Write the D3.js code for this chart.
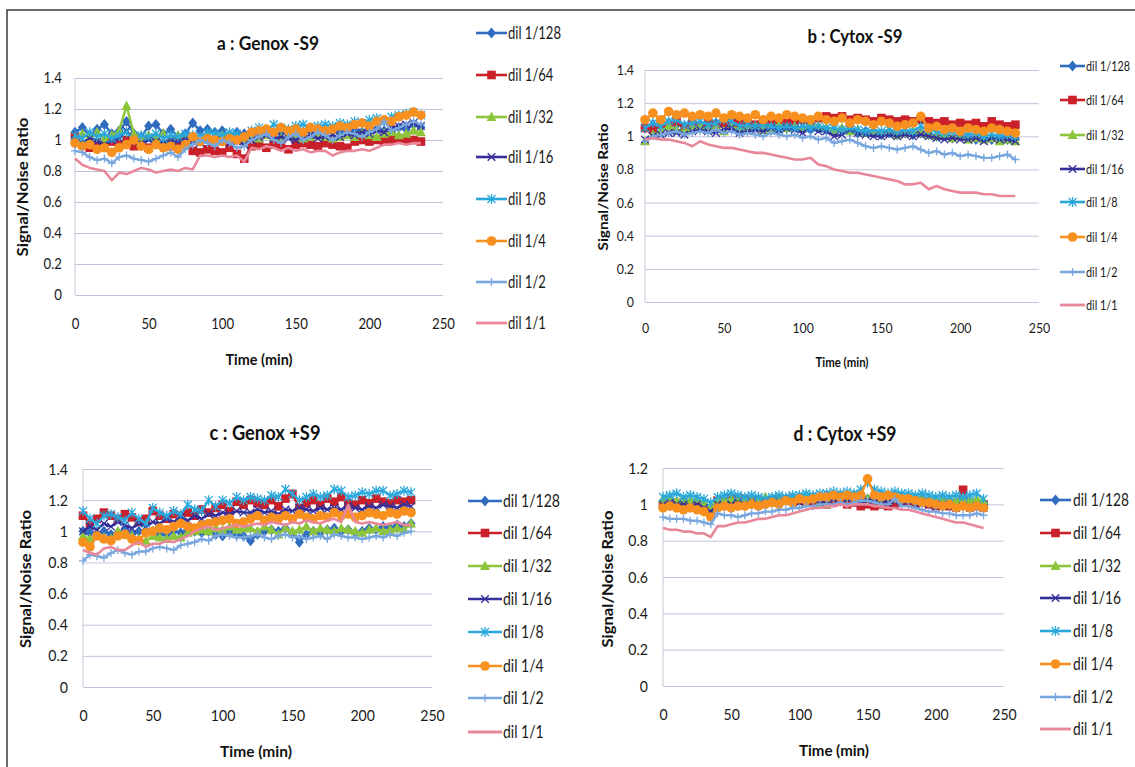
<!DOCTYPE html>
<html>
<head>
<meta charset="utf-8">
<script src="https://cdn.jsdelivr.net/npm/d3@7"></script>
<style>
  body { margin: 0; background: #fff; }
  svg { display: block; font-family: Lato, "Open Sans", sans-serif; }
</style>
</head>
<body>
<div id="chart"></div>
<script>
const times = [0,5,10,15,20,25,30,35,40,45,50,55,60,65,70,75,80,85,90,95,100,105,110,115,
               120,125,130,135,140,145,150,155,160,165,170,175,180,185,190,195,200,205,210,215,220,225,230,235];
const dilutions = ['dil 1/128','dil 1/64','dil 1/32','dil 1/16','dil 1/8','dil 1/4','dil 1/2','dil 1/1'];
const xTicks = [0,50,100,150,200,250];
const yTicks14 = [0,0.2,0.4,0.6,0.8,1,1.2,1.4];
const yTicks12 = [0,0.2,0.4,0.6,0.8,1,1.2];

// a : Genox -S9
const a128 = [1.05,1.08,1.03,1.07,1.10,1.04,1.06,1.12,1.04,1.02,1.09,1.10,
              1.04,1.07,1.02,1.04,1.11,1.06,1.07,1.05,1.06,1.03,1.05,1.04,
              1.03,1.05,1.06,1.04,1.05,1.06,1.04,1.05,1.06,1.04,1.05,1.06,
              1.05,1.04,1.06,1.05,1.06,1.07,1.06,1.05,1.08,1.07,1.10,1.08];
const a64 = [1.02,0.97,0.95,0.98,0.96,0.99,0.97,1.00,0.96,0.97,0.95,0.98,
             0.97,0.96,0.98,0.99,0.93,0.92,0.94,0.93,0.92,0.95,0.91,0.88,
             0.96,0.97,0.95,0.97,0.96,0.94,0.97,0.98,0.97,0.96,0.98,0.97,
             0.96,0.95,0.99,1.00,0.99,1.00,0.99,1.00,1.01,1.00,1.00,0.99];
const a32 = [1.01,1.04,1.02,1.05,1.01,1.03,1.06,1.22,1.04,1.01,1.03,1.02,
             1.04,1.00,1.03,1.02,1.01,1.00,1.02,1.01,1.03,1.02,1.00,1.01,
             1.02,1.01,1.03,1.02,1.01,1.03,1.02,1.01,1.02,1.03,1.02,1.01,
             1.02,1.03,1.02,1.04,1.03,1.02,1.04,1.05,1.03,1.04,1.06,1.05];
const a16 = [1.00,0.98,1.01,0.99,0.97,1.00,1.01,1.06,0.99,0.98,1.00,0.99,
             0.98,1.00,0.99,1.01,0.99,0.98,1.00,0.99,1.00,0.98,0.99,0.97,
             1.00,1.02,1.03,1.01,1.02,1.01,1.00,1.02,1.03,1.01,1.02,1.03,
             1.02,1.04,1.03,1.05,1.04,1.06,1.05,1.08,1.09,1.10,1.11,1.09];
const a8 = [1.03,1.01,1.05,1.02,1.04,1.01,1.03,1.05,1.00,1.03,1.02,1.04,
            1.01,1.03,1.02,1.04,1.03,1.02,1.05,1.04,1.03,1.05,1.04,1.02,
            1.06,1.08,1.06,1.10,1.08,1.07,1.09,1.10,1.08,1.09,1.10,1.09,
            1.11,1.10,1.12,1.11,1.13,1.14,1.12,1.15,1.16,1.17,1.18,1.16];
const a4 = [0.98,0.96,0.97,0.94,0.95,0.92,0.95,0.97,1.00,0.96,0.94,0.97,
            0.95,0.96,0.94,0.97,1.02,0.99,1.01,1.00,0.99,1.01,1.00,1.02,
            1.05,1.06,1.07,1.05,1.08,1.06,1.07,1.05,1.08,1.07,1.06,1.07,
            1.09,1.08,1.10,1.11,1.09,1.12,1.13,1.12,1.15,1.16,1.18,1.16];
const a2 = [0.93,0.92,0.89,0.87,0.88,0.85,0.89,0.90,0.88,0.87,0.86,0.88,
            0.90,0.92,0.89,0.94,0.97,1.00,0.98,0.96,1.00,0.98,0.95,0.96,
            1.00,1.02,1.04,1.00,0.98,1.02,1.04,1.00,1.02,1.05,1.03,1.00,
            1.03,1.05,1.04,1.02,1.05,1.07,1.12,1.06,1.08,1.10,1.12,1.10];
const a1 = [0.88,0.84,0.82,0.81,0.80,0.74,0.79,0.78,0.80,0.82,0.81,0.79,
            0.80,0.81,0.80,0.82,0.81,0.90,0.90,0.89,0.90,0.89,0.90,0.86,
            0.95,0.94,0.96,0.95,0.93,0.95,0.93,0.94,0.92,0.93,0.93,0.90,
            0.92,0.93,0.93,0.94,0.93,0.95,0.97,0.97,0.98,0.97,0.98,0.98];

// b : Cytox -S9
const b128 = [1.05,1.07,1.06,1.08,1.07,1.06,1.08,1.07,1.06,1.08,1.07,1.06,
              1.05,1.06,1.05,1.06,1.05,1.04,1.05,1.06,1.05,1.04,1.05,1.04,
              1.03,1.04,1.03,1.02,1.03,1.02,1.01,1.02,1.01,1.02,1.01,1.02,
              1.01,1.00,1.01,0.99,1.00,0.99,0.98,0.99,0.98,0.99,0.98,0.98];
const b64 = [1.05,1.04,1.07,1.06,1.09,1.05,1.08,1.06,1.09,1.07,1.08,1.10,
             1.08,1.09,1.07,1.09,1.08,1.10,1.09,1.08,1.10,1.09,1.11,1.12,
             1.11,1.12,1.10,1.11,1.10,1.09,1.11,1.10,1.09,1.10,1.09,1.10,
             1.09,1.08,1.09,1.07,1.08,1.07,1.08,1.06,1.09,1.07,1.06,1.07];
const b32 = [0.97,1.01,1.03,1.06,1.04,1.03,1.05,1.06,1.04,1.05,1.03,1.06,
             1.04,1.05,1.06,1.04,1.05,1.07,1.05,1.06,1.05,1.07,1.06,1.05,
             1.04,1.05,1.03,1.04,1.02,1.03,1.02,1.03,1.01,1.02,1.03,1.02,
             1.01,1.00,1.01,0.99,1.00,0.98,0.99,0.98,0.99,0.97,0.98,0.97];
const b16 = [0.98,1.00,1.01,1.02,1.02,1.01,1.03,1.04,1.03,1.02,1.04,1.05,
             1.02,1.03,1.04,1.03,1.05,1.04,1.05,1.04,1.02,1.05,1.03,1.03,
             1.00,1.01,1.04,1.02,1.01,1.00,1.00,1.01,1.00,1.01,1.00,1.01,
             1.00,0.99,0.98,0.99,0.98,0.98,0.99,0.97,0.99,0.98,0.98,0.97];
const b8 = [1.05,1.08,1.06,1.09,1.10,1.07,1.08,1.09,1.07,1.08,1.10,1.09,
            1.06,1.07,1.06,1.07,1.06,1.05,1.06,1.05,1.06,1.05,1.06,1.05,
            1.05,1.04,1.05,1.04,1.03,1.04,1.03,1.04,1.03,1.04,1.03,1.06,
            1.04,1.03,1.02,1.03,1.02,1.01,1.02,1.00,1.01,1.00,1.01,1.00];
const b4 = [1.10,1.14,1.10,1.15,1.13,1.14,1.12,1.13,1.12,1.14,1.11,1.13,
            1.12,1.11,1.13,1.10,1.12,1.11,1.13,1.12,1.11,1.10,1.12,1.10,
            1.09,1.11,1.08,1.10,1.09,1.07,1.09,1.08,1.06,1.07,1.08,1.12,
            1.05,1.06,1.04,1.05,1.03,1.05,1.04,1.03,1.05,1.04,1.03,1.02];
const b2 = [0.97,1.00,1.01,1.02,1.03,1.01,1.02,1.03,1.02,1.04,1.02,1.03,
            1.01,1.02,1.01,1.00,1.02,1.01,1.00,1.01,0.99,1.00,0.98,0.99,
            0.96,0.97,0.98,0.96,0.94,0.93,0.94,0.93,0.92,0.93,0.94,0.92,
            0.90,0.91,0.89,0.90,0.88,0.89,0.88,0.87,0.87,0.88,0.89,0.86];
const b1 = [0.98,0.99,0.98,0.98,0.97,0.96,0.94,0.97,0.95,0.94,0.93,0.93,
            0.92,0.91,0.90,0.90,0.89,0.88,0.87,0.86,0.86,0.87,0.83,0.82,
            0.80,0.79,0.78,0.78,0.77,0.76,0.75,0.74,0.73,0.71,0.71,0.72,
            0.68,0.70,0.68,0.67,0.66,0.66,0.66,0.65,0.65,0.64,0.64,0.64];

// c : Genox +S9
const c128 = [1.00,0.99,0.98,1.00,0.98,0.99,1.01,0.98,1.00,0.99,1.00,0.98,
              0.98,1.00,0.99,1.01,1.00,0.99,1.00,0.98,0.97,1.00,0.98,0.97,
              0.94,0.98,1.00,1.01,1.00,1.02,0.99,0.93,0.98,1.00,0.99,1.01,
              1.02,1.00,1.01,0.99,1.00,1.02,1.01,1.03,1.02,1.04,1.03,1.05];
const c64 = [1.10,1.05,1.08,1.12,1.10,1.08,1.11,1.09,1.06,1.08,1.13,1.10,
             1.08,1.11,1.10,1.12,1.10,1.14,1.12,1.15,1.17,1.13,1.19,1.17,
             1.20,1.18,1.17,1.20,1.16,1.21,1.24,1.15,1.18,1.20,1.17,1.21,
             1.19,1.22,1.18,1.17,1.20,1.18,1.21,1.19,1.18,1.20,1.19,1.20];
const c32 = [0.97,0.95,0.98,0.96,0.95,1.00,0.98,0.97,0.95,0.94,0.97,0.96,
             0.95,0.97,0.96,0.99,1.00,1.01,1.00,1.02,1.01,1.03,1.01,1.02,
             1.02,1.00,1.03,1.01,0.98,1.02,1.00,1.01,1.03,1.00,1.02,1.01,
             1.00,1.02,1.01,1.00,0.99,1.01,1.02,1.00,1.01,1.02,1.01,1.05];
const c16 = [1.00,1.03,1.01,1.05,1.03,1.06,1.04,1.02,1.05,1.03,1.06,1.05,
             1.08,1.06,1.09,1.07,1.10,1.08,1.11,1.10,1.12,1.11,1.13,1.12,
             1.12,1.14,1.12,1.13,1.11,1.14,1.13,1.15,1.14,1.13,1.15,1.14,
             1.15,1.14,1.16,1.15,1.14,1.16,1.15,1.17,1.16,1.15,1.17,1.16];
const c8 = [1.13,1.08,1.05,1.10,1.11,1.09,1.07,1.12,1.08,1.05,1.15,1.12,
            1.10,1.13,1.11,1.17,1.14,1.13,1.20,1.16,1.20,1.18,1.22,1.20,
            1.22,1.21,1.20,1.23,1.22,1.27,1.24,1.20,1.22,1.24,1.22,1.23,
            1.27,1.26,1.22,1.23,1.25,1.24,1.26,1.26,1.23,1.24,1.26,1.25];
const c4 = [0.93,0.90,0.97,0.95,0.94,0.97,0.98,0.95,0.94,0.99,1.00,1.02,
            1.01,1.03,1.05,1.03,1.02,1.04,1.05,1.06,1.07,1.08,1.05,1.06,
            1.08,1.10,1.07,1.09,1.08,1.10,1.08,1.11,1.09,1.08,1.10,1.09,
            1.12,1.10,1.11,1.09,1.10,1.12,1.11,1.10,1.12,1.11,1.13,1.12];
const c2 = [0.81,0.85,0.84,0.83,0.86,0.88,0.86,0.85,0.87,0.87,0.89,0.90,
            0.89,0.88,0.91,0.92,0.93,0.95,0.94,0.97,0.98,0.97,0.96,0.96,
            0.97,0.98,0.96,0.95,0.97,0.98,0.96,0.97,0.95,0.96,0.97,0.95,
            0.98,0.97,0.96,0.96,0.95,0.96,0.97,0.96,0.98,0.97,0.99,1.00];
const c1 = [0.88,0.86,0.85,0.89,0.90,0.88,0.88,0.91,0.93,0.90,0.92,0.92,
            0.94,0.93,0.95,0.97,1.00,1.02,1.03,1.01,1.02,1.03,1.04,1.03,
            1.04,1.05,1.04,1.06,1.05,1.04,1.06,1.05,1.07,1.06,1.05,1.07,
            1.08,1.06,1.17,1.06,1.05,1.06,1.05,1.04,1.05,1.06,1.04,1.04];

// d : Cytox +S9
const d128 = [1.01,1.02,1.01,1.02,1.01,1.00,0.98,0.97,1.01,1.02,1.01,1.02,
              1.01,1.02,1.01,1.02,1.03,1.02,1.03,1.03,1.04,1.03,1.04,1.04,
              1.05,1.04,1.05,1.04,1.05,1.06,1.03,1.05,1.04,1.03,1.04,1.03,
              1.03,1.02,1.03,1.02,1.01,1.02,1.01,1.00,1.01,1.00,1.01,1.00];
const d64 = [1.00,1.01,1.00,1.01,1.00,0.99,0.98,0.96,1.02,1.01,1.03,1.03,
             1.03,1.02,1.02,1.01,1.02,1.03,1.02,1.03,1.02,1.03,1.02,1.01,
             1.00,1.01,1.02,1.00,1.01,0.99,1.00,0.99,1.00,0.99,1.00,1.01,
             1.01,1.00,1.01,1.00,0.99,1.00,0.99,1.00,1.08,1.00,0.99,1.00];
const d32 = [1.03,1.04,1.02,1.03,1.02,1.03,1.01,0.98,1.03,1.02,1.03,1.02,
             1.03,1.02,1.03,1.04,1.03,1.02,1.03,1.04,1.04,1.05,1.03,1.00,
             1.00,1.04,1.05,1.04,1.05,1.04,1.03,1.04,1.03,1.04,1.03,1.04,
             1.03,1.04,1.03,1.02,1.03,1.02,1.03,1.02,1.03,1.02,1.03,1.02];
const d16 = [1.00,1.01,1.00,1.00,0.99,1.00,0.98,0.96,1.00,0.99,1.00,1.01,
             1.00,1.01,1.00,1.01,1.02,1.01,1.02,1.02,1.01,1.02,1.03,1.01,
             1.02,1.03,1.02,1.03,1.02,1.01,1.02,1.03,1.02,1.01,1.02,1.01,
             1.02,1.00,1.01,1.00,0.99,1.00,0.99,0.98,0.99,0.98,0.99,0.98];
const d8 = [1.04,1.05,1.06,1.04,1.05,1.04,1.03,1.01,1.04,1.05,1.06,1.05,
            1.04,1.05,1.04,1.03,1.04,1.05,1.04,1.05,1.05,1.06,1.05,1.06,
            1.06,1.07,1.06,1.07,1.06,1.08,1.12,1.08,1.07,1.06,1.07,1.06,
            1.06,1.05,1.06,1.05,1.04,1.05,1.04,1.05,1.04,1.05,1.06,1.03];
const d4 = [0.98,0.99,0.98,0.97,0.98,0.97,0.96,0.93,0.98,0.99,0.98,0.99,
            0.99,1.00,0.99,1.00,1.01,1.00,1.02,1.01,1.03,1.02,1.03,1.04,
            1.04,1.05,1.04,1.05,1.04,1.05,1.14,1.05,1.04,1.05,1.04,1.03,
            1.03,1.02,1.01,1.01,1.00,0.99,1.00,0.98,0.99,0.98,0.99,0.98];
const d2 = [0.93,0.92,0.92,0.92,0.91,0.91,0.90,0.89,0.95,0.94,0.94,0.93,
            0.94,0.95,0.95,0.96,0.96,0.97,0.97,0.98,0.98,0.99,0.99,1.00,
            1.00,1.00,1.01,1.00,1.01,1.02,1.02,1.01,1.00,1.00,1.03,0.99,
            0.99,0.98,0.97,0.96,0.96,0.95,0.95,0.94,0.94,0.94,0.95,0.94];
const d1 = [0.87,0.86,0.86,0.85,0.85,0.84,0.84,0.82,0.88,0.88,0.89,0.90,
            0.90,0.91,0.92,0.92,0.93,0.94,0.94,0.95,0.96,0.97,0.98,0.98,
            0.99,0.99,1.00,0.99,1.00,1.00,1.00,0.99,0.99,0.98,0.98,0.97,
            0.97,0.96,0.95,0.94,0.93,0.92,0.91,0.90,0.90,0.89,0.88,0.87];

const colors = ['#2f6cc0','#c9202a','#8cc43c','#35309a','#2aa8dc','#f7901e','#78a6de','#e8879a'];
const markers = ['diamond','square','triangle','x','star','circle','plus','dash'];

// marker shapes, centred on 0,0
function markerPath(type) {
  switch (type) {
    case 'diamond': return 'M0,-5.5L4.5,0L0,5.5L-4.5,0Z';
    case 'square': return 'M-4.3,-4.3H4.3V4.3H-4.3Z';
    case 'triangle': return 'M0,-5.5L5,4H-5Z';
    case 'x': return 'M-3.8,-3.8L3.8,3.8M-3.8,3.8L3.8,-3.8';
    case 'star': return 'M-4,-4L4,4M-4,4L4,-4M0,-5V5';
    case 'plus': return 'M-4,0H4M0,-4V4';
  }
  return null;
}

function addMarker(g, type, color, x, y) {
  if (type === 'circle') {
    g.append('circle').attr('cx', x).attr('cy', y).attr('r', 4.8).attr('fill', color);
    return;
  }
  const p = g.append('path').attr('d', markerPath(type)).attr('transform', `translate(${x},${y})`);
  if (['diamond','square','triangle'].includes(type)) p.attr('fill', color);
  else p.attr('fill', 'none').attr('stroke', color).attr('stroke-width', 1.3);
}

// squeeze a text to a narrow face, like the Calibri of the original
function squeeze(sel, factor) {
  sel.each(function() {
    const len = this.getComputedTextLength();
    d3.select(this).attr('textLength', len * factor).attr('lengthAdjust', 'spacingAndGlyphs');
  });
}
function fitTo(sel, width) {
  sel.attr('textLength', width).attr('lengthAdjust', 'spacingAndGlyphs');
}

const panels = [
  { title: 'a : Genox -S9', series: [a128,a64,a32,a16,a8,a4,a2,a1], yMax: 1.4, yTicks: yTicks14,
    x0: 75, x1: 443, yTop: 78, yBot: 295, titleX: 268, titleY: 50, titleSize: 19, titleW: 102,
    tickSize: 15, yPad: 13, xPad: 23, xTitleX: 259, xTitleY: 365, xTitleW: 67,
    yTitleX: 23, yTitleY: 187, yTitleW: 139, axisSize: 15,
    legX: 476, legW: 31, legText: 508, legSize: 17, legW128: 53, legY: [33,75,117,157,199,241,282,323] },
  { title: 'b : Cytox -S9', series: [b128,b64,b32,b16,b8,b4,b2,b1], yMax: 1.4, yTicks: yTicks14,
    x0: 645, x1: 1039, yTop: 70, yBot: 302, titleX: 855, titleY: 43, titleSize: 19, titleW: 95,
    tickSize: 14, yPad: 11, xPad: 21, xTitleX: 842, xTitleY: 367, xTitleW: 53,
    yTitleX: 603, yTitleY: 187, yTitleW: 127, axisSize: 13,
    legX: 1060, legW: 25, legText: 1086, legSize: 14, legW128: 44, legY: [66,100,135,169,202,237,272,305] },
  { title: 'c : Genox +S9', series: [c128,c64,c32,c16,c8,c4,c2,c1], yMax: 1.4, yTicks: yTicks14,
    x0: 83, x1: 432, yTop: 469, yBot: 687, titleX: 265, titleY: 440, titleSize: 20, titleW: 111,
    tickSize: 16, yPad: 15, xPad: 23, xTitleX: 256, xTitleY: 757, xTitleW: 72,
    yTitleX: 26, yTitleY: 579, yTitleW: 138, axisSize: 15,
    legX: 468, legW: 34, legText: 503, legSize: 18, legW128: 57, legY: [501,533,566,599,632,666,698,732] },
  { title: 'd : Cytox +S9', series: [d128,d64,d32,d16,d8,d4,d2,d1], yMax: 1.2, yTicks: yTicks12,
    x0: 663, x1: 1004, yTop: 468, yBot: 686, titleX: 845, titleY: 441, titleSize: 20, titleW: 103,
    tickSize: 16, yPad: 15, xPad: 23, xTitleX: 834, xTitleY: 756, xTitleW: 70,
    yTitleX: 608, yTitleY: 579, yTitleW: 137, axisSize: 15,
    legX: 1040, legW: 31, legText: 1073, legSize: 18, legW128: 56, legY: [500,533,566,598,631,664,697,729] }
];

const svg = d3.select('#chart').append('svg')
    .attr('width', 1135)
    .attr('height', 767);

// frame round the figure
svg.append('path')
    .attr('d', 'M7,767V10H1135')
    .attr('fill', 'none')
    .attr('stroke', '#3a3a3a')
    .attr('stroke-width', 1.5);

panels.forEach(p => {
  const g = svg.append('g');

  const x = d3.scaleLinear().domain([0, 250]).range([p.x0, p.x1]);
  const y = d3.scaleLinear().domain([0, p.yMax]).range([p.yBot, p.yTop]);

  // y axis with gridlines
  const yAxis = g.append('g')
      .attr('transform', `translate(${p.x0},0)`)
      .call(d3.axisLeft(y).tickValues(p.yTicks).tickFormat(d => String(d))
        .tickSize(-(p.x1 - p.x0)).tickPadding(p.yPad));
  yAxis.select('.domain').remove();
  yAxis.selectAll('line').attr('stroke', '#c2c3da').attr('stroke-width', 1);
  yAxis.selectAll('text').attr('fill', '#1a1a1a').style('font-size', p.tickSize + 'px')
      .style('font-family', 'Lato, sans-serif');
  squeeze(yAxis.selectAll('text'), 0.88);

  g.append('line')
      .attr('x1', p.x0).attr('x2', p.x0)
      .attr('y1', p.yTop).attr('y2', p.yBot)
      .attr('stroke', '#c8c8d8');

  const xAxis = g.append('g')
      .attr('transform', `translate(0,${p.yBot})`)
      .call(d3.axisBottom(x).tickValues(xTicks).tickSize(0).tickPadding(p.xPad));
  xAxis.select('.domain').remove();
  xAxis.selectAll('text').attr('fill', '#1a1a1a').style('font-size', p.tickSize + 'px')
      .style('font-family', 'Lato, sans-serif');
  squeeze(xAxis.selectAll('text'), 0.88);

  // series, drawn 1/128 first so 1/1 ends on top
  const line = d3.line().x((d, i) => x(times[i])).y(d => y(d));
  p.series.forEach((vals, s) => {
    g.append('path')
        .datum(vals)
        .attr('d', line)
        .attr('fill', 'none')
        .attr('stroke', colors[s])
        .attr('stroke-width', s === 7 ? 2.6 : 2.4)
        .attr('stroke-linejoin', 'round');
    if (markers[s] !== 'dash') {
      const mg = g.append('g');
      vals.forEach((v, i) => addMarker(mg, markers[s], colors[s], x(times[i]), y(v)));
    }
  });

  // titles
  const title = g.append('text')
      .attr('x', p.titleX).attr('y', p.titleY)
      .attr('text-anchor', 'middle')
      .style('font-size', p.titleSize + 'px').style('font-weight', 'bold')
      .attr('fill', '#111')
      .text(p.title);
  fitTo(title, p.titleW);

  const xTitle = g.append('text')
      .attr('x', p.xTitleX).attr('y', p.xTitleY)
      .attr('text-anchor', 'middle')
      .style('font-size', p.axisSize + 'px').style('font-weight', 'bold')
      .attr('fill', '#111')
      .text('Time (min)');
  fitTo(xTitle, p.xTitleW);

  const yTitle = g.append('text')
      .attr('transform', `translate(${p.yTitleX},${p.yTitleY}) rotate(-90)`)
      .attr('text-anchor', 'middle')
      .attr('dy', '0.35em')
      .style('font-size', p.axisSize + 'px').style('font-weight', 'bold')
      .attr('fill', '#111')
      .text('Signal/Noise Ratio');
  fitTo(yTitle, p.yTitleW);

  // legend; texts are narrowed with a horizontal scale
  let factor = 1;
  dilutions.forEach((name, s) => {
    const ly = p.legY[s];
    g.append('line')
        .attr('x1', p.legX).attr('x2', p.legX + p.legW)
        .attr('y1', ly).attr('y2', ly)
        .attr('stroke', colors[s]).attr('stroke-width', s === 7 ? 2.8 : 2.6);
    if (markers[s] !== 'dash') addMarker(g, markers[s], colors[s], p.legX + p.legW / 2, ly);
    const t = g.append('text')
        .attr('x', 0).attr('y', 0)
        .attr('dy', '0.36em')
        .style('font-size', p.legSize + 'px')
        .attr('fill', '#1a1a1a')
        .text(name);
    if (s === 0) factor = p.legW128 / t.node().getComputedTextLength();
    t.attr('transform', `translate(${p.legText},${ly}) scale(${factor},1)`);
  });
});
</script>
</body>
</html>
